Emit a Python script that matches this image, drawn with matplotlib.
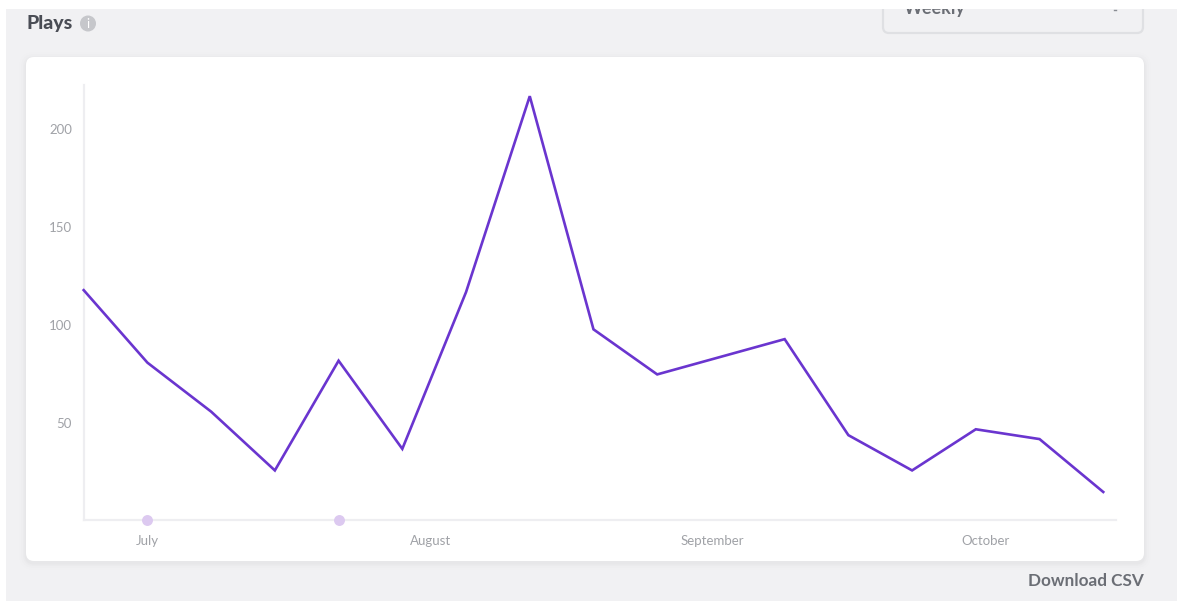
import matplotlib
matplotlib.use("Agg")
import matplotlib.pyplot as plt
from matplotlib.patches import FancyBboxPatch, Rectangle, Circle

plt.rcParams['font.family'] = ['Lato', 'DejaVu Sans']

plays = [118, 81, 56, 26, 82, 37, 117, 217, 98, 75, 84, 93, 44, 26, 47, 42, 15]
weeks = list(range(len(plays)))
month_labels = ["July", "August", "September", "October"]
month_pos = [1, 5.45, 9.87, 14.15]
y_ticks = [50, 100, 150, 200]
event_weeks = [1, 4]

W, H = 1177, 601
PURPLE = "#6a35cf"
AXIS = "#eeeef1"
BG = "#f1f1f3"
Y_LOW, Y_HIGH = 0.7, 222.7

fig = plt.figure(figsize=(W / 100, H / 100), dpi=100, facecolor="white")

# page chrome drawn in pixel coordinates
bg = fig.add_axes([0, 0, 1, 1])
bg.set_xlim(0, W)
bg.set_ylim(H, 0)
bg.axis("off")
bg.add_patch(Rectangle((6, 9), W - 6, H - 9, fc=BG, ec="none"))

# dropdown, cut off by the top of the screenshot
bg.add_patch(FancyBboxPatch((883, -20), 260, 53, boxstyle="round,pad=0,rounding_size=6",
                            fc=BG, ec="#dfe0e3", lw=1.6))
bg.text(904, 14, "Weekly", fontsize=13, fontweight="bold", color="#6b6e75", va="baseline")
bg.plot([1114, 1116], [9.5, 9.5], color="#8a8d93", lw=1)
bg.add_patch(Rectangle((0, 0), W, 9, fc="white", ec="none", zorder=3))

# soft card shadow
for grow, a in [(7, 0.005), (5, 0.007), (3, 0.01), (1.5, 0.014)]:
    bg.add_patch(FancyBboxPatch((26 - grow, 57 - grow + 2), 1118 + 2 * grow, 504 + 2 * grow,
                                boxstyle=f"round,pad=0,rounding_size={8 + grow}",
                                fc="black", ec="none", alpha=a))
bg.add_patch(FancyBboxPatch((26, 57), 1118, 504, boxstyle="round,pad=0,rounding_size=8",
                            fc="white", ec="none"))

bg.text(26, 29, "Plays", fontsize=14, fontweight="black", color="#4a4d55", va="baseline")
bg.add_patch(Circle((88, 23.5), 8, fc="#c6c7cb", ec="none"))
bg.text(88, 23.5, "i", fontsize=9, color="white", ha="center", va="center")
bg.text(1144, 586, "Download CSV", fontsize=12.3, fontweight="bold", color="#6b6e75",
        ha="right", va="baseline")

# chart
x0, x1, ytop, ybot = 83.7, 1116, 85, 520
ax = fig.add_axes([x0 / W, 1 - ybot / H, (x1 - x0) / W, (ybot - ytop) / H])
ax.patch.set_alpha(0)
ax.plot(weeks, plays, color=PURPLE, lw=1.9, solid_joinstyle="miter", clip_on=False, zorder=3)
ax.scatter(event_weeks, [Y_LOW] * len(event_weeks), s=62, color="#dcc9f0", linewidths=0,
           clip_on=False, zorder=4)
ax.set_xlim(0, 16.2)
ax.set_ylim(Y_LOW, Y_HIGH)
ax.set_yticks(y_ticks)
ax.set_xticks(month_pos)
ax.set_xticklabels(month_labels)
ax.tick_params(axis="both", length=0, labelsize=9.5, labelcolor="#a0a2a7")
ax.tick_params(axis="x", pad=11)
ax.tick_params(axis="y", pad=8.5)
for s in ["top", "right"]:
    ax.spines[s].set_visible(False)
for s in ["left", "bottom"]:
    ax.spines[s].set_color(AXIS)
    ax.spines[s].set_linewidth(1.6)

fig.savefig("out.png", dpi=100)
